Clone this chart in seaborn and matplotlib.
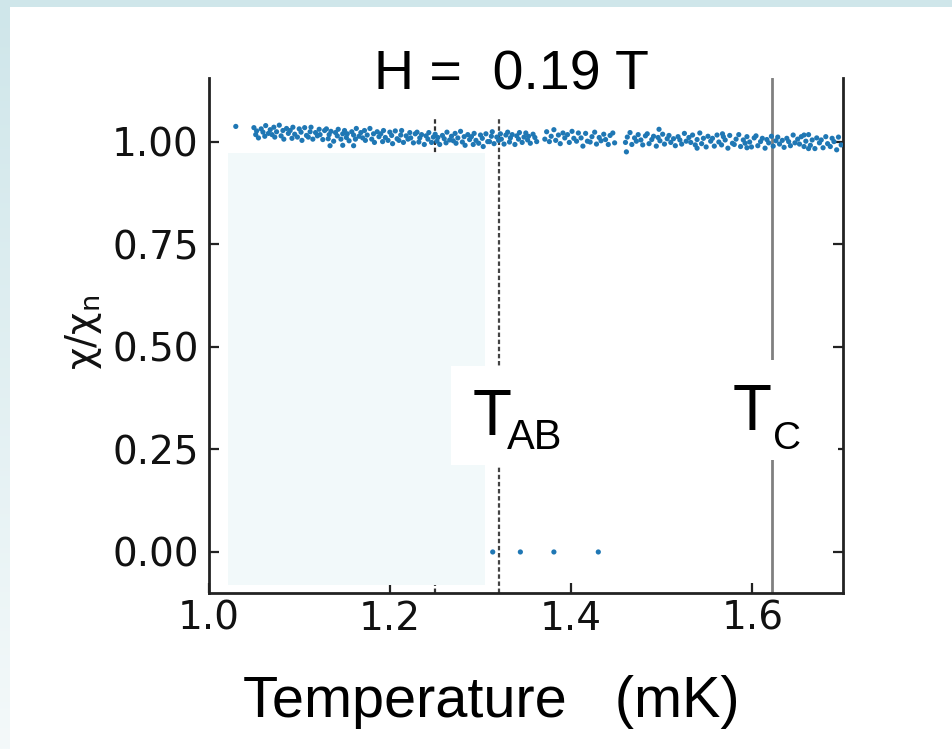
import numpy as np
import pandas as pd
import matplotlib
matplotlib.use("Agg")
import matplotlib.pyplot as plt
import seaborn as sns
from matplotlib.patches import Rectangle
from matplotlib.colors import LinearSegmentedColormap

# ---------------- data ----------------
temp_low = [1.050, 1.052, 1.053, 1.055, 1.058, 1.060, 1.062, 1.063, 1.066, 1.068,
            1.070, 1.072, 1.073, 1.075, 1.078, 1.080, 1.082, 1.083, 1.086, 1.088,
            1.090, 1.092, 1.093, 1.095, 1.098, 1.100, 1.102, 1.103, 1.106, 1.108,
            1.110, 1.112, 1.113, 1.115, 1.118, 1.120, 1.122, 1.123, 1.126, 1.128,
            1.130, 1.132, 1.133, 1.135, 1.138, 1.140, 1.142, 1.143, 1.146, 1.148,
            1.150, 1.152, 1.153, 1.155, 1.158, 1.160, 1.162, 1.163, 1.166, 1.168,
            1.170, 1.172, 1.173, 1.175, 1.178, 1.180, 1.182, 1.183, 1.186, 1.188,
            1.190, 1.192, 1.193, 1.195, 1.198, 1.200, 1.202, 1.203, 1.206, 1.208]
chi_low = [1.034, 1.017, 1.026, 1.009, 1.031, 1.023, 1.013, 1.039, 1.020, 1.029,
           1.017, 1.035, 1.011, 1.024, 1.040, 1.014, 1.027, 1.006, 1.032, 1.020,
           1.027, 1.008, 1.035, 1.018, 1.011, 1.031, 1.023, 1.003, 1.034, 1.015,
           1.011, 1.024, 1.035, 1.006, 1.022, 1.014, 1.030, 1.017, 1.005, 1.027,
           1.031, 1.007, 1.017, 1.025, 1.001, 1.022, 1.014, 1.030, 1.006, 1.019,
           1.027, 1.010, 1.019, 1.002, 1.024, 1.016, 1.006, 1.032, 1.013, 1.022,
           1.009, 1.027, 1.003, 1.016, 1.032, 1.006, 1.019, 0.998, 1.024, 1.012,
           1.019, 1.000, 1.027, 1.010, 1.003, 1.023, 1.015, 0.995, 1.026, 1.007]

temp_mid = [1.210, 1.212, 1.213, 1.215, 1.218, 1.220, 1.222, 1.223, 1.226, 1.228,
            1.230, 1.232, 1.233, 1.235, 1.238, 1.240, 1.242, 1.243, 1.246, 1.248,
            1.250, 1.252, 1.253, 1.255, 1.258, 1.260, 1.262, 1.263, 1.266, 1.268,
            1.270, 1.272, 1.273, 1.275, 1.278, 1.280, 1.282, 1.283, 1.286, 1.288,
            1.290, 1.292, 1.293, 1.295, 1.298, 1.300, 1.302, 1.303, 1.306, 1.308,
            1.310, 1.312, 1.313, 1.315, 1.318, 1.320, 1.322, 1.323, 1.326, 1.328,
            1.330, 1.332, 1.333, 1.335, 1.338, 1.340, 1.342, 1.343, 1.346, 1.348,
            1.350, 1.352, 1.353, 1.355, 1.358, 1.360, 1.362]
chi_mid = [1.003, 1.016, 1.027, 0.998, 1.014, 1.006, 1.022, 1.009, 0.997, 1.019,
           1.023, 0.999, 1.009, 1.017, 0.993, 1.014, 1.006, 1.022, 0.998, 1.011,
           1.018, 1.001, 1.010, 0.993, 1.015, 1.007, 0.997, 1.023, 1.004, 1.013,
           1.002, 1.020, 0.996, 1.009, 1.025, 0.999, 1.012, 0.991, 1.017, 1.005,
           1.012, 0.993, 1.020, 1.003, 0.996, 1.016, 1.008, 0.988, 1.019, 1.000,
           1.000, 1.013, 1.024, 0.995, 1.011, 1.003, 1.019, 1.006, 0.994, 1.016,
           1.023, 0.999, 1.009, 1.017, 0.993, 1.014, 1.006, 1.022, 0.998, 1.011,
           1.021, 1.004, 1.013, 0.996, 1.018, 1.010, 1.000]

temp_gap = [1.371, 1.373, 1.376, 1.378, 1.381, 1.383, 1.386, 1.388, 1.391, 1.393,
            1.396, 1.398, 1.401, 1.403, 1.406, 1.408, 1.411, 1.413, 1.416, 1.418,
            1.421, 1.423, 1.426, 1.428, 1.431, 1.433, 1.436, 1.438, 1.441, 1.443,
            1.446, 1.448]
chi_gap = [1.006, 1.024, 1.000, 1.013, 1.029, 1.003, 1.016, 0.995, 1.021, 1.009,
           1.017, 0.998, 1.025, 1.008, 1.001, 1.021, 1.009, 0.989, 1.020, 1.001,
           0.999, 1.012, 1.023, 0.994, 1.010, 1.002, 1.018, 1.005, 0.993, 1.015,
           1.021, 0.997]

temp_high = [1.460, 1.462, 1.465, 1.467, 1.470, 1.472, 1.474, 1.477, 1.479, 1.482,
             1.484, 1.486, 1.489, 1.491, 1.494, 1.496, 1.498, 1.501, 1.503, 1.506,
             1.508, 1.510, 1.513, 1.515, 1.518, 1.520, 1.522, 1.525, 1.527, 1.530,
             1.532, 1.534, 1.537, 1.539, 1.542, 1.544, 1.546, 1.549, 1.551, 1.554,
             1.556, 1.558, 1.561, 1.563, 1.566, 1.568, 1.570, 1.573, 1.575, 1.578,
             1.580, 1.582, 1.585, 1.587, 1.590, 1.592, 1.594, 1.597, 1.599, 1.602,
             1.604, 1.606, 1.609, 1.611, 1.614, 1.616, 1.618, 1.621, 1.623, 1.626,
             1.628, 1.630, 1.633, 1.635, 1.638, 1.640, 1.642, 1.645, 1.647, 1.650,
             1.652, 1.654, 1.657, 1.659, 1.662, 1.664, 1.666, 1.669, 1.671, 1.674,
             1.676, 1.678, 1.681, 1.683, 1.686, 1.688, 1.690, 1.693, 1.695, 1.698]
chi_high = [0.998, 1.011, 1.022, 0.993, 1.009, 1.001, 1.017, 1.004, 0.992, 1.014,
            1.019, 0.995, 1.005, 1.013, 0.989, 1.010, 1.002, 1.018, 0.994, 1.007,
            1.015, 0.998, 1.007, 0.990, 1.012, 1.004, 0.994, 1.020, 1.001, 1.010,
            0.998, 1.016, 0.992, 1.005, 1.021, 0.995, 1.008, 0.987, 1.013, 1.001,
            1.008, 0.989, 1.016, 0.999, 0.992, 1.012, 1.004, 0.984, 1.015, 0.996,
            0.993, 1.006, 1.017, 0.988, 1.004, 0.996, 1.012, 0.999, 0.987, 1.009,
            1.014, 0.990, 1.000, 1.008, 0.984, 1.005, 0.997, 1.013, 0.989, 1.002,
            1.011, 0.994, 1.003, 0.986, 1.008, 1.000, 0.990, 1.016, 0.997, 1.006,
            0.994, 1.012, 0.988, 1.001, 1.017, 0.991, 1.004, 0.983, 1.009, 0.997,
            1.004, 0.985, 1.012, 0.995, 0.988, 1.008, 1.000, 0.980, 1.011, 0.992]

temp_outlier = [1.030, 1.134, 1.148, 1.160, 1.461, 1.497, 1.539, 1.567, 1.594, 1.657, 1.662]
chi_outlier = [1.037, 0.990, 0.991, 0.990, 0.975, 1.030, 0.984, 1.019, 0.985, 1.016, 0.983]

temp_zero = [1.3135, 1.344, 1.381, 1.430]
chi_zero = [0.0, 0.0, 0.0, 0.0]

t_guide = 1.25
t_ab = 1.32
t_c = 1.622
x_ticks = [1.0, 1.2, 1.4, 1.6]
x_ticklabels = ["1.0", "1.2", "1.4", "1.6"]
y_ticks = [0.0, 0.25, 0.5, 0.75, 1.0]
y_ticklabels = ["0.00", "0.25", "0.50", "0.75", "1.00"]

title_text = "H =  0.19 T"
xlabel_text = "Temperature   (mK)"
ylabel_text = r"$\mathrm{\chi/\chi_n}$"

# ---------------- assemble ----------------
df = pd.DataFrame({
    "T": temp_low + temp_mid + temp_gap + temp_high + temp_outlier + temp_zero,
    "chi": chi_low + chi_mid + chi_gap + chi_high + chi_outlier + chi_zero,
})

sns.set_style("ticks")
plt.rcParams["font.family"] = ["DejaVu Sans"]
plt.rcParams["mathtext.fontset"] = "dejavusans"
plt.rcParams["text.color"] = "black"

W, H = 953, 749
fig = plt.figure(figsize=(W / 100, H / 100), dpi=100)
fig.patch.set_facecolor("white")

# light frame of the screenshot
fig.patches.append(Rectangle((0, 1 - 7 / H), 1, 7 / H, transform=fig.transFigure,
                             facecolor="#cfe6ea", edgecolor="none", zorder=0))
bg = fig.add_axes([0, 0, 10 / W, 1 - 7 / H])
grad = np.linspace(0, 1, 256).reshape(-1, 1)
cm = LinearSegmentedColormap.from_list("fr", ["#cfe6ea", "#f4f9fa"])
bg.imshow(grad, aspect="auto", cmap=cm, extent=[0, 1, 0, 1], origin="upper")
bg.set_axis_off()

ax = fig.add_axes([208.6 / W, 1 - 593 / H, (843 - 208.6) / W, (593 - 78) / H])
ax.set_facecolor("white")

dash_top = (593 - 118) / (593 - 78)
ax.axvline(t_guide, ymax=dash_top, color="#333333", lw=1.6, ls=(0, (2, 1.2)), zorder=1)
ax.axvline(t_ab, ymax=dash_top, color="#444444", lw=1.6, ls=(0, (2, 1.2)), zorder=1)
ax.axvline(t_c, color="#808080", lw=2.0, zorder=1)

# pale overlay panel
ax.add_patch(Rectangle((1.021, -0.081), 1.305 - 1.021, 0.972 + 0.081,
                       facecolor="#f2f9fa", edgecolor="none", zorder=2))

sns.scatterplot(data=df, x="T", y="chi", ax=ax, color="#1f77b4", s=14,
                edgecolor="none", linewidth=0, zorder=3, legend=False)

ax.set_xlim(1.0, 1.70)
ax.set_ylim(-0.1, 1.155)
ax.set_xticks(x_ticks)
ax.set_xticklabels(x_ticklabels)
ax.set_yticks(y_ticks)
ax.set_yticklabels(y_ticklabels)

for side in ["left", "right", "bottom"]:
    ax.spines[side].set_color("#222222")
    ax.spines[side].set_linewidth(2.0)
ax.spines["top"].set_visible(False)
ax.tick_params(direction="in", length=7, width=1.6, color="#222222",
               labelsize=28, right=True, top=False, labelcolor="#111111")
ax.tick_params(axis="y", pad=7)
ax.tick_params(axis="x", pad=5)

ax.set_xlabel(xlabel_text, fontsize=41.5, family="Liberation Sans", color="black")
ax.xaxis.label.set_verticalalignment("baseline")
ax.xaxis.set_label_coords((491 - 208.6) / (843 - 208.6), -(717 - 593) / (593 - 78))
ax.set_ylabel(ylabel_text, fontsize=28, color="#111111")
ax.yaxis.set_label_coords(-(208.6 - 104) / (843 - 208.6), (593 - 332) / (593 - 78))

# label boxes
for (x0, y0, x1, y1) in [(451, 366, 572, 465), (726, 360, 838, 460)]:
    fig.patches.append(Rectangle((x0 / W, 1 - y1 / H), (x1 - x0) / W, (y1 - y0) / H,
                                 transform=fig.transFigure, facecolor="white",
                                 edgecolor="none", zorder=5))

fig.text(473 / W, 1 - 435 / H, "T", fontsize=46, family="Liberation Sans",
         ha="left", va="baseline", zorder=6, color="black")
fig.text(507 / W, 1 - 449 / H, "AB", fontsize=30, family="Liberation Sans",
         ha="left", va="baseline", zorder=6, color="black")
fig.text(733 / W, 1 - 430 / H, "T", fontsize=46, family="Liberation Sans",
         ha="left", va="baseline", zorder=6, color="black")
fig.text(773 / W, 1 - 449 / H, "C", fontsize=28, family="Liberation Sans",
         ha="left", va="baseline", zorder=6, color="black")

fig.text(511 / W, 1 - 90 / H, title_text, fontsize=40, family="Liberation Sans",
         ha="center", va="baseline", zorder=6, color="black")

fig.savefig("out.png", dpi=100, facecolor="white")
